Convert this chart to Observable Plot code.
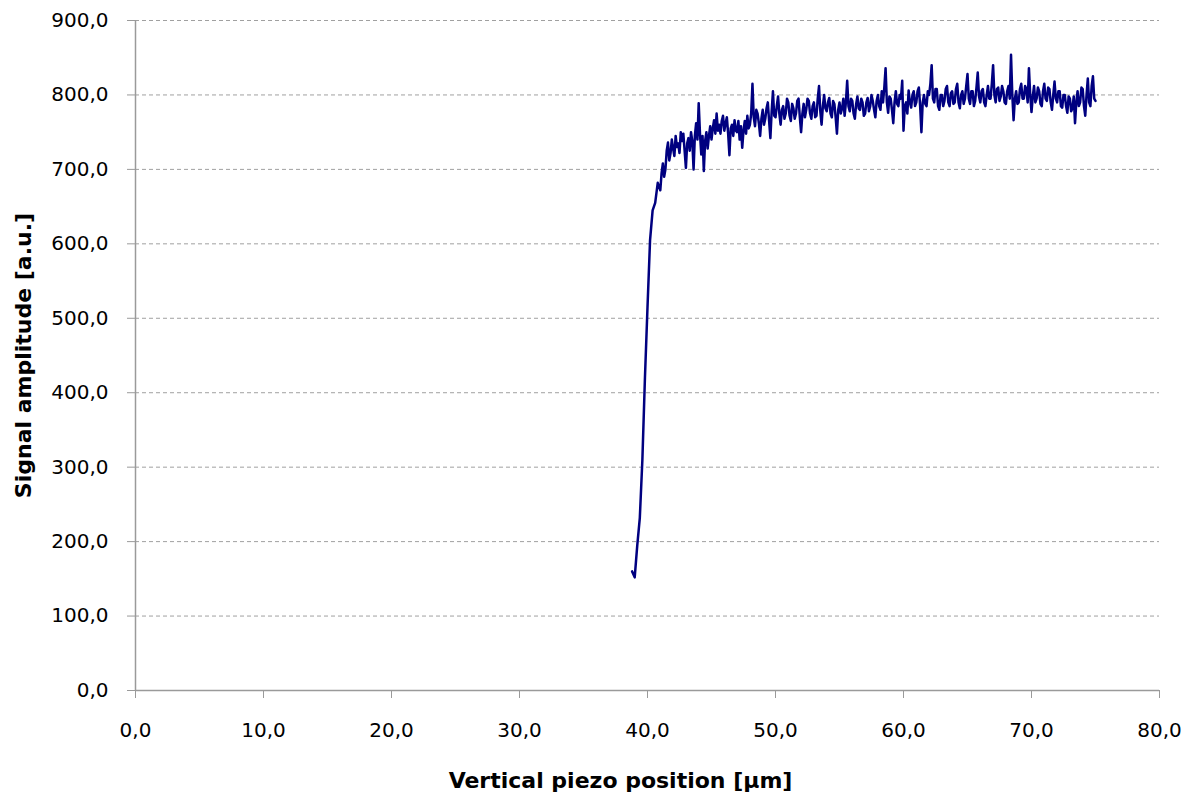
<!DOCTYPE html>
<html>
<head>
<meta charset="utf-8">
<script src="https://cdn.jsdelivr.net/npm/d3@7"></script>
<script src="https://cdn.jsdelivr.net/npm/@observablehq/plot@0.6"></script>
<style>
  body { margin: 0; background: #ffffff; }
  svg { display: block; }
</style>
</head>
<body>
<div id="chart"></div>
<script>
// Vertical piezo position [µm]
const positions = [
  38.8, 39.0, 39.2, 39.4, 39.6, 39.8, 40.0, 40.2, 40.4, 40.6, 40.8,
  41.0, 41.1, 41.2, 41.3, 41.4, 41.5, 41.6, 41.7, 41.8, 41.9,
  42.0, 42.1, 42.2, 42.3, 42.4, 42.5, 42.6, 42.7, 42.8, 42.9,
  43.0, 43.1, 43.2, 43.3, 43.4, 43.5, 43.6, 43.7, 43.8, 43.9,
  44.0, 44.1, 44.2, 44.3, 44.4, 44.5, 44.6, 44.7, 44.8, 44.9,
  45.0, 45.1, 45.2, 45.3, 45.4, 45.5, 45.6, 45.7, 45.8, 45.9,
  46.0, 46.1, 46.2, 46.3, 46.4, 46.5, 46.6, 46.7, 46.8, 46.9,
  47.0, 47.1, 47.2, 47.3, 47.4, 47.5, 47.6, 47.7, 47.8, 47.9,
  48.0, 48.1, 48.2, 48.3, 48.4, 48.5, 48.6, 48.7, 48.8, 48.9,
  49.0, 49.1, 49.2, 49.3, 49.4, 49.5, 49.6, 49.7, 49.8, 49.9,
  50.0, 50.1, 50.2, 50.3, 50.4, 50.5, 50.6, 50.7, 50.8, 50.9,
  51.0, 51.1, 51.2, 51.3, 51.4, 51.5, 51.6, 51.7, 51.8, 51.9,
  52.0, 52.1, 52.2, 52.3, 52.4, 52.5, 52.6, 52.7, 52.8, 52.9,
  53.0, 53.1, 53.2, 53.3, 53.4, 53.5, 53.6, 53.7, 53.8, 53.9,
  54.0, 54.1, 54.2, 54.3, 54.4, 54.5, 54.6, 54.7, 54.8, 54.9,
  55.0, 55.1, 55.2, 55.3, 55.4, 55.5, 55.6, 55.7, 55.8, 55.9,
  56.0, 56.1, 56.2, 56.3, 56.4, 56.5, 56.6, 56.7, 56.8, 56.9,
  57.0, 57.1, 57.2, 57.3, 57.4, 57.5, 57.6, 57.7, 57.8, 57.9,
  58.0, 58.1, 58.2, 58.3, 58.4, 58.5, 58.6, 58.7, 58.8, 58.9,
  59.0, 59.1, 59.2, 59.3, 59.4, 59.5, 59.6, 59.7, 59.8, 59.9,
  60.0, 60.1, 60.2, 60.3, 60.4, 60.5, 60.6, 60.7, 60.8, 60.9,
  61.0, 61.1, 61.2, 61.3, 61.4, 61.5, 61.6, 61.7, 61.8, 61.9,
  62.0, 62.1, 62.2, 62.3, 62.4, 62.5, 62.6, 62.7, 62.8, 62.9,
  63.0, 63.1, 63.2, 63.3, 63.4, 63.5, 63.6, 63.7, 63.8, 63.9,
  64.0, 64.1, 64.2, 64.3, 64.4, 64.5, 64.6, 64.7, 64.8, 64.9,
  65.0, 65.1, 65.2, 65.3, 65.4, 65.5, 65.6, 65.7, 65.8, 65.9,
  66.0, 66.1, 66.2, 66.3, 66.4, 66.5, 66.6, 66.7, 66.8, 66.9,
  67.0, 67.1, 67.2, 67.3, 67.4, 67.5, 67.6, 67.7, 67.8, 67.9,
  68.0, 68.1, 68.2, 68.3, 68.4, 68.5, 68.6, 68.7, 68.8, 68.9,
  69.0, 69.1, 69.2, 69.3, 69.4, 69.5, 69.6, 69.7, 69.8, 69.9,
  70.0, 70.1, 70.2, 70.3, 70.4, 70.5, 70.6, 70.7, 70.8, 70.9,
  71.0, 71.1, 71.2, 71.3, 71.4, 71.5, 71.6, 71.7, 71.8, 71.9,
  72.0, 72.1, 72.2, 72.3, 72.4, 72.5, 72.6, 72.7, 72.8, 72.9,
  73.0, 73.1, 73.2, 73.3, 73.4, 73.5, 73.6, 73.7, 73.8, 73.9,
  74.0, 74.1, 74.2, 74.3, 74.4, 74.5, 74.6, 74.7, 74.8, 74.9,
  75.0
];
// Signal amplitude [a.u.]
const amplitudes = [
  160, 152, 195, 232, 310, 420, 515, 605, 645, 655, 682,
  672, 695, 708, 690, 700, 725, 736, 712, 722, 740,
  728, 718, 745, 730, 735, 722, 750, 738, 748, 725,
  702, 735, 742, 725, 750, 738, 700, 745, 762, 740,
  789, 748, 720, 745, 698, 738, 750, 728, 745, 758,
  740, 755, 766, 748, 775, 752, 760, 748, 765, 772,
  752, 762, 770, 748, 719, 755, 760, 745, 766, 752,
  750, 765, 740, 758, 729, 752, 765, 748, 772, 755,
  760, 775, 815, 770, 758, 780, 775, 762, 745, 768,
  780, 760, 768, 782, 790, 765, 742, 778, 805, 772,
  770, 785, 798, 775, 760, 780, 785, 768, 775, 795,
  790, 772, 765, 788, 782, 768, 775, 792, 795, 770,
  750, 775, 788, 770, 780, 795, 792, 775, 768, 785,
  790, 770, 772, 795, 812, 778, 760, 785, 800, 782,
  778, 790, 796, 775, 770, 792, 788, 770, 748, 780,
  790, 775, 782, 795, 772, 790, 819, 785, 778, 795,
  792, 775, 768, 788, 798, 782, 780, 795, 790, 772,
  775, 790, 796, 778, 785, 800, 792, 780, 770, 792,
  800, 785, 780, 805, 790, 810, 836, 790, 776, 798,
  795, 780, 762, 790, 805, 788, 785, 800, 795, 819,
  752, 785, 790, 775, 806, 790, 783, 800, 805, 785,
  790, 805, 810, 785, 750, 790, 800, 788, 785, 805,
  800, 815, 840, 795, 790, 808, 808, 785, 780, 800,
  800, 785, 792, 808, 812, 790, 785, 802, 805, 788,
  790, 808, 815, 790, 782, 800, 805, 788, 795, 812,
  828, 795, 788, 805, 805, 785, 792, 810, 830, 798,
  790, 805, 808, 790, 785, 800, 812, 795, 795, 815,
  840, 800, 790, 808, 810, 792, 798, 812, 805, 790,
  788, 805, 812, 795, 854, 800, 766, 795, 805, 788,
  790, 808, 815, 795, 795, 812, 808, 790, 836, 800,
  777, 798, 812, 790, 795, 810, 805, 788, 785, 805,
  815, 795, 792, 810, 808, 790, 780, 800, 818, 795,
  790, 805, 805, 785, 783, 800, 800, 785, 776, 798,
  795, 778, 782, 798, 762, 790, 805, 785, 790, 810,
  808, 785, 772, 800, 822, 790, 785, 812, 825, 795,
  792
];
const xTicks = [0, 10, 20, 30, 40, 50, 60, 70, 80];
const yTicks = [0, 100, 200, 300, 400, 500, 600, 700, 800, 900];
const xTitle = "Vertical piezo position [µm]";
const yTitle = "Signal amplitude [a.u.]";

const data = positions.map((x, i) => ({x, y: amplitudes[i]}));
const fmt = d => d.toFixed(1).replace(".", ",");

const chart = Plot.plot({
  width: 1192,
  height: 798,
  marginLeft: 135,
  marginRight: 33,
  marginTop: 20,
  marginBottom: 108,
  style: {fontFamily: "'DejaVu Sans', Verdana, sans-serif", background: "#ffffff", color: "#000"},
  x: {domain: [0, 80]},
  y: {domain: [0, 900]},
  marks: [
    Plot.gridY(yTicks.filter(d => d > 0), {stroke: "#a0a0a0", strokeOpacity: 1, strokeDasharray: "4,3", strokeWidth: 1}),
    Plot.ruleX([0], {stroke: "#9a9a9a", strokeWidth: 1.5}),
    Plot.ruleY([0], {stroke: "#9a9a9a", strokeWidth: 1.5}),
    Plot.axisX(xTicks, {tickSize: 8, tickPadding: 24, tickFormat: fmt, fontSize: 20, stroke: "#9a9a9a", fill: "#000", label: null}),
    Plot.axisY(yTicks, {tickSize: 8, tickPadding: 19, tickFormat: fmt, fontSize: 20, stroke: "#9a9a9a", fill: "#000", label: null}),
    Plot.line(data, {x: "x", y: "y", stroke: "#000080", strokeWidth: 2.5}),
    Plot.text([xTitle], {frameAnchor: "bottom", dy: 97, dx: -27, fontSize: 22, fontWeight: "bold", fill: "#000"}),
    Plot.text([yTitle], {frameAnchor: "left", textAnchor: "middle", dx: -112, rotate: -90, fontSize: 22, fontWeight: "bold", fill: "#000"})
  ]
});
document.getElementById("chart").appendChild(chart);
</script>
</body>
</html>
